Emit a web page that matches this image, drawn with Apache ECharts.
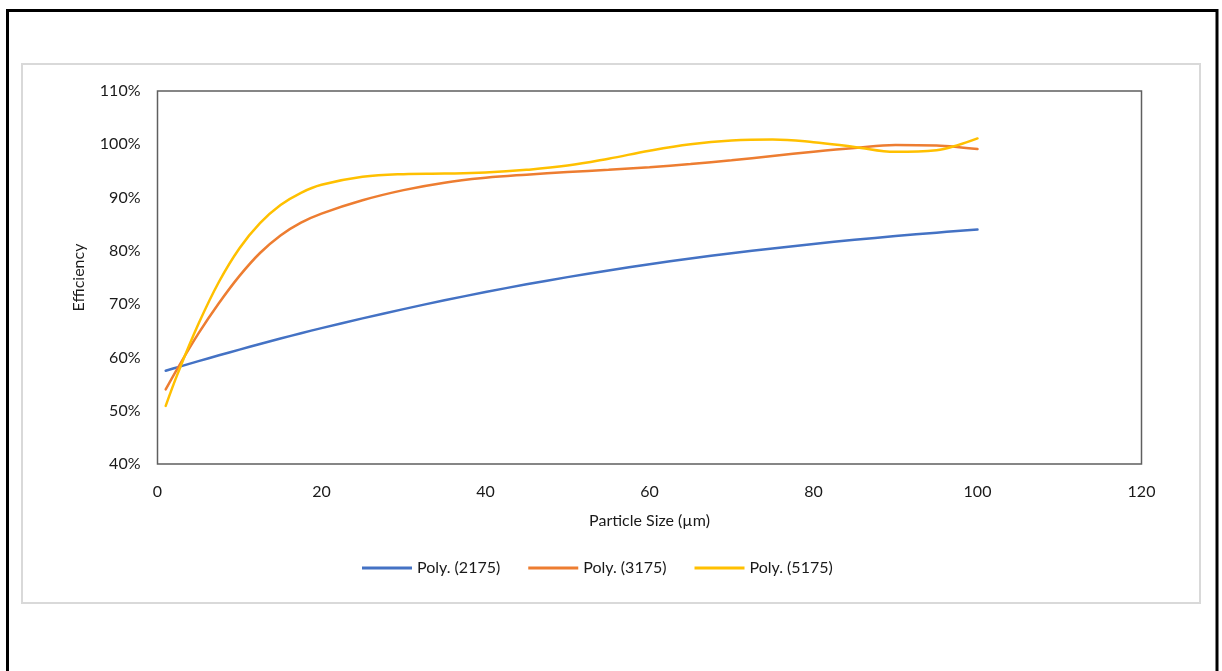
<!DOCTYPE html>
<html>
<head>
<meta charset="utf-8">
<title>Efficiency vs Particle Size</title>
<script src="https://cdn.jsdelivr.net/npm/echarts@6/dist/echarts.min.js"></script>
<style>
  html, body { margin: 0; padding: 0; background: #fff; }
  #chart { width: 1222px; height: 671px; }
</style>
</head>
<body>
<div id="chart"></div>
<script>
// Particle sizes (µm) at which the fitted trend curves are sampled
const sizes = [1, 2.5, 5, 7.5, 10, 12.5, 15, 17.5, 20, 25, 30, 35, 40, 45, 50,
               55, 60, 65, 70, 75, 80, 85, 90, 95, 97.5, 100];

// Efficiency (%) of each polynomial trend
const poly2175 = [57.5, 58.18, 59.3, 60.4, 61.47, 62.52, 63.54, 64.54, 65.5, 67.33, 69.07, 70.72,
                  72.27, 73.72, 75.07, 76.33, 77.5, 78.58, 79.56, 80.45, 81.3, 82.07, 82.78, 83.42,
                  83.72, 84.0];
const poly3175 = [54.0, 58.1, 64.5, 70.2, 75.3, 79.6, 82.9, 85.3, 87.0, 89.5, 91.4, 92.8, 93.7,
                  94.3, 94.8, 95.2, 95.7, 96.3, 97.0, 97.8, 98.6, 99.3, 99.85, 99.75, 99.5, 99.1];
const poly5175 = [50.9, 57.1, 66.3, 74.2, 80.5, 85.2, 88.6, 90.9, 92.4, 93.9, 94.4, 94.5, 94.7,
                  95.2, 96.0, 97.3, 98.8, 100.0, 100.7, 100.9, 100.4, 99.5, 98.6, 98.9, 99.8, 101.1];

const seriesNames = ['Poly. (2175)', 'Poly. (3175)', 'Poly. (5175)'];
const seriesValues = [poly2175, poly3175, poly5175];
const seriesColors = ['#4472C4', '#ED7D31', '#FFC000'];

const xTitle = 'Particle Size (µm)';
const yTitle = 'Efficiency';

const FONT = 'Lato, "Noto Sans", sans-serif';
const TEXT = '#1a1a1a';

const chart = echarts.init(document.getElementById('chart'), null, { renderer: 'canvas' });

chart.setOption({
  backgroundColor: '#ffffff',
  animation: false,
  textStyle: { fontFamily: FONT },
  graphic: [
    { type: 'rect', silent: true, z: -1,
      shape: { x: 7.5, y: 10.5, width: 1209.5, height: 700 },
      style: { fill: 'none', stroke: '#000', lineWidth: 3 } },
    { type: 'rect', silent: true, z: -1,
      shape: { x: 22, y: 64, width: 1178, height: 539 },
      style: { fill: 'none', stroke: '#d9d9d9', lineWidth: 2 } }
  ],
  grid: {
    left: 157.5, top: 91, right: 80.5, bottom: 207,
    show: true, borderColor: '#5f5f5f', borderWidth: 1.5, backgroundColor: 'transparent'
  },
  legend: {
    left: 362, top: 560, padding: 0,
    itemWidth: 50, itemHeight: 3, itemGap: 28,
    icon: 'rect',
    data: seriesNames,
    textStyle: { fontFamily: FONT, fontSize: 16, color: TEXT }
  },
  xAxis: {
    type: 'value', min: 0, max: 120, interval: 20,
    name: xTitle, nameLocation: 'middle', nameGap: 49,
    nameTextStyle: { fontFamily: FONT, fontSize: 16, color: TEXT },
    axisLine: { show: false }, axisTick: { show: false }, splitLine: { show: false },
    axisLabel: { fontFamily: FONT, fontSize: 16, color: TEXT, margin: 20 }
  },
  yAxis: {
    type: 'value', min: 40, max: 110, interval: 10,
    name: yTitle, nameLocation: 'middle', nameGap: 71, nameRotate: 90,
    nameTextStyle: { fontFamily: FONT, fontSize: 16, color: TEXT },
    axisLine: { show: false }, axisTick: { show: false }, splitLine: { show: false },
    axisLabel: { fontFamily: FONT, fontSize: 16, color: TEXT, margin: 17, formatter: '{value}%' }
  },
  series: seriesNames.map((name, i) => ({
    name,
    type: 'line',
    data: sizes.map((s, j) => [s, seriesValues[i][j]]),
    smooth: 0.4,
    showSymbol: false,
    symbol: 'none',
    color: seriesColors[i],
    lineStyle: { width: 2.5, color: seriesColors[i], cap: 'round' },
    itemStyle: { color: seriesColors[i] }
  }))
});
</script>
</body>
</html>
